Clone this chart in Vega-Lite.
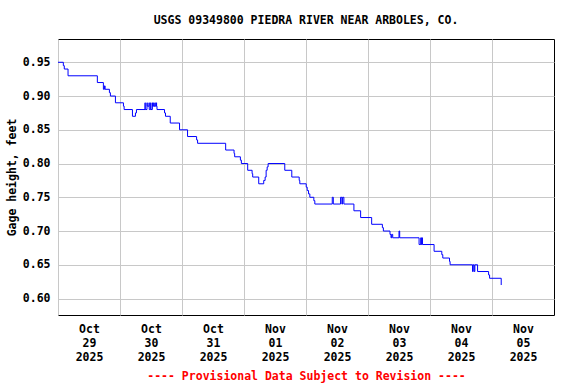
{
  "$schema": "https://vega.github.io/schema/vega-lite/v6.json",
  "width": 496,
  "height": 276,
  "autosize": "none",
  "padding": {"left": 58, "top": 39, "right": 22, "bottom": 69},
  "background": "white",
  "config": {
    "font": "DejaVu Sans Mono",
    "view": {"stroke": "black", "strokeWidth": 1},
    "axis": {
      "labelFont": "DejaVu Sans Mono",
      "labelFontWeight": "bold",
      "labelFontSize": 11.5,
      "labelColor": "black",
      "titleFont": "DejaVu Sans Mono",
      "titleFontWeight": "bold",
      "titleFontSize": 11.5,
      "titleColor": "black",
      "gridColor": "#c8c8c8",
      "gridWidth": 1,
      "gridOpacity": 1,
      "ticks": false,
      "domain": false
    }
  },
  "title": {
    "text": "USGS 09349800 PIEDRA RIVER NEAR ARBOLES, CO.",
    "font": "DejaVu Sans Mono",
    "fontWeight": "bold",
    "fontSize": 11.5,
    "color": "black",
    "anchor": "middle",
    "offset": 13
  },
  "data": {
    "values": [
      {"t": "2025-10-29T00:00", "v": 0.95},
      {"t": "2025-10-29T02:04", "v": 0.945},
      {"t": "2025-10-29T02:26", "v": 0.94},
      {"t": "2025-10-29T03:53", "v": 0.93},
      {"t": "2025-10-29T15:14", "v": 0.92},
      {"t": "2025-10-29T17:34", "v": 0.91},
      {"t": "2025-10-29T17:58", "v": 0.915},
      {"t": "2025-10-29T18:14", "v": 0.91},
      {"t": "2025-10-29T19:54", "v": 0.905},
      {"t": "2025-10-29T20:17", "v": 0.90},
      {"t": "2025-10-29T22:14", "v": 0.89},
      {"t": "2025-10-30T01:20", "v": 0.885},
      {"t": "2025-10-30T01:36", "v": 0.88},
      {"t": "2025-10-30T04:49", "v": 0.87},
      {"t": "2025-10-30T05:59", "v": 0.875},
      {"t": "2025-10-30T06:22", "v": 0.88},
      {"t": "2025-10-30T09:41", "v": 0.89},
      {"t": "2025-10-30T09:46", "v": 0.88},
      {"t": "2025-10-30T10:27", "v": 0.89},
      {"t": "2025-10-30T10:32", "v": 0.885},
      {"t": "2025-10-30T11:14", "v": 0.89},
      {"t": "2025-10-30T11:19", "v": 0.88},
      {"t": "2025-10-30T11:53", "v": 0.89},
      {"t": "2025-10-30T11:58", "v": 0.88},
      {"t": "2025-10-30T12:32", "v": 0.89},
      {"t": "2025-10-30T12:37", "v": 0.885},
      {"t": "2025-10-30T13:03", "v": 0.89},
      {"t": "2025-10-30T13:08", "v": 0.885},
      {"t": "2025-10-30T13:33", "v": 0.89},
      {"t": "2025-10-30T13:38", "v": 0.885},
      {"t": "2025-10-30T14:05", "v": 0.89},
      {"t": "2025-10-30T14:10", "v": 0.885},
      {"t": "2025-10-30T14:19", "v": 0.88},
      {"t": "2025-10-30T17:14", "v": 0.875},
      {"t": "2025-10-30T17:37", "v": 0.87},
      {"t": "2025-10-30T19:27", "v": 0.86},
      {"t": "2025-10-30T23:03", "v": 0.85},
      {"t": "2025-10-31T02:09", "v": 0.84},
      {"t": "2025-10-31T05:39", "v": 0.835},
      {"t": "2025-10-31T06:02", "v": 0.83},
      {"t": "2025-10-31T16:54", "v": 0.82},
      {"t": "2025-10-31T20:09", "v": 0.815},
      {"t": "2025-10-31T20:23", "v": 0.81},
      {"t": "2025-10-31T22:36", "v": 0.805},
      {"t": "2025-10-31T22:59", "v": 0.80},
      {"t": "2025-11-01T01:26", "v": 0.79},
      {"t": "2025-11-01T03:08", "v": 0.785},
      {"t": "2025-11-01T03:22", "v": 0.78},
      {"t": "2025-11-01T05:42", "v": 0.77},
      {"t": "2025-11-01T07:38", "v": 0.775},
      {"t": "2025-11-01T08:11", "v": 0.78},
      {"t": "2025-11-01T08:34", "v": 0.79},
      {"t": "2025-11-01T08:58", "v": 0.795},
      {"t": "2025-11-01T09:20", "v": 0.80},
      {"t": "2025-11-01T15:47", "v": 0.79},
      {"t": "2025-11-01T18:30", "v": 0.78},
      {"t": "2025-11-01T21:22", "v": 0.775},
      {"t": "2025-11-01T21:36", "v": 0.77},
      {"t": "2025-11-02T00:05", "v": 0.765},
      {"t": "2025-11-02T00:28", "v": 0.76},
      {"t": "2025-11-02T00:59", "v": 0.755},
      {"t": "2025-11-02T01:29", "v": 0.75},
      {"t": "2025-11-02T03:02", "v": 0.745},
      {"t": "2025-11-02T03:25", "v": 0.74},
      {"t": "2025-11-02T10:10", "v": 0.75},
      {"t": "2025-11-02T10:34", "v": 0.74},
      {"t": "2025-11-02T13:23", "v": 0.75},
      {"t": "2025-11-02T13:53", "v": 0.74},
      {"t": "2025-11-02T14:10", "v": 0.75},
      {"t": "2025-11-02T14:40", "v": 0.74},
      {"t": "2025-11-02T18:33", "v": 0.73},
      {"t": "2025-11-02T21:09", "v": 0.72},
      {"t": "2025-11-03T01:25", "v": 0.71},
      {"t": "2025-11-03T05:34", "v": 0.705},
      {"t": "2025-11-03T05:57", "v": 0.70},
      {"t": "2025-11-03T08:31", "v": 0.695},
      {"t": "2025-11-03T08:54", "v": 0.69},
      {"t": "2025-11-03T09:10", "v": 0.695},
      {"t": "2025-11-03T09:34", "v": 0.69},
      {"t": "2025-11-03T12:00", "v": 0.70},
      {"t": "2025-11-03T12:16", "v": 0.69},
      {"t": "2025-11-03T19:46", "v": 0.68},
      {"t": "2025-11-03T20:25", "v": 0.69},
      {"t": "2025-11-03T20:37", "v": 0.68},
      {"t": "2025-11-03T20:49", "v": 0.69},
      {"t": "2025-11-03T21:05", "v": 0.68},
      {"t": "2025-11-04T01:35", "v": 0.67},
      {"t": "2025-11-04T04:34", "v": 0.665},
      {"t": "2025-11-04T04:57", "v": 0.66},
      {"t": "2025-11-04T07:33", "v": 0.655},
      {"t": "2025-11-04T07:47", "v": 0.65},
      {"t": "2025-11-04T16:28", "v": 0.64},
      {"t": "2025-11-04T16:43", "v": 0.65},
      {"t": "2025-11-04T17:06", "v": 0.64},
      {"t": "2025-11-04T17:22", "v": 0.65},
      {"t": "2025-11-04T18:25", "v": 0.64},
      {"t": "2025-11-04T22:41", "v": 0.635},
      {"t": "2025-11-04T23:04", "v": 0.63},
      {"t": "2025-11-05T03:34", "v": 0.62}
    ]
  },
  "mark": {"type": "line", "interpolate": "step-after", "color": "#0000ff", "strokeWidth": 1},
  "encoding": {
    "x": {
      "field": "t",
      "type": "temporal",
      "scale": {
        "domain": [
          {"year": 2025, "month": "Oct", "date": 29},
          {"year": 2025, "month": "Nov", "date": 6}
        ]
      },
      "axis": {
        "values": [
          {"year": 2025, "month": "Oct", "date": 29},
          {"year": 2025, "month": "Oct", "date": 30},
          {"year": 2025, "month": "Oct", "date": 31},
          {"year": 2025, "month": "Nov", "date": 1},
          {"year": 2025, "month": "Nov", "date": 2},
          {"year": 2025, "month": "Nov", "date": 3},
          {"year": 2025, "month": "Nov", "date": 4},
          {"year": 2025, "month": "Nov", "date": 5}
        ],
        "labelExpr": "[timeFormat(datum.value, '%b'), timeFormat(datum.value, '%d'), timeFormat(datum.value, '%Y')]",
        "labelOffset": 31,
        "labelLineHeight": 14,
        "labelPadding": 8,
        "labelFlush": false,
        "labelOverlap": false,
        "labelAngle": 0,
        "title": "---- Provisional Data Subject to Revision ----",
        "titleColor": "#ff0000",
        "titlePadding": 8
      }
    },
    "y": {
      "field": "v",
      "type": "quantitative",
      "scale": {"domain": [0.5756, 0.9845], "zero": false, "nice": false},
      "axis": {
        "values": [0.6, 0.65, 0.7, 0.75, 0.8, 0.85, 0.9, 0.95],
        "format": ".2f",
        "labelPadding": 8,
        "title": "Gage height, feet",
        "titlePadding": 5
      }
    }
  }
}
